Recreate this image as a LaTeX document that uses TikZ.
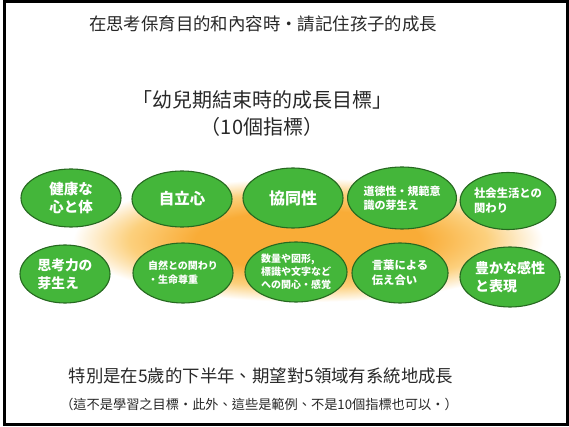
\documentclass[tikz,border=0pt]{standalone}
\usepackage{fontspec}
\usetikzlibrary{shapes.geometric}
\newfontfamily\tcfont{Noto Sans CJK TC}
\newfontfamily\jpfont{Noto Sans CJK JP}
\definecolor{leafgreen}{RGB}{68,182,58}
\definecolor{leafedge}{RGB}{38,105,32}
\definecolor{glowA}{RGB}{249,172,55}
\definecolor{glowB}{RGB}{252,208,125}
\definecolor{inkgray}{RGB}{40,40,40}
\pgfdeclareradialshading{glowshade}{\pgfpoint{0bp}{0bp}}{%
  color(0bp)=(glowA); color(12bp)=(glowA); color(19bp)=(glowB); color(25bp)=(white); color(50bp)=(white)}
\tikzset{
  goal/.style={ellipse, draw=leafedge, line width=1.1pt, fill=leafgreen, text=white,
    inner sep=0pt, align=left, font=\jpfont\bfseries},
  heading/.style={text=inkgray, font=\tcfont, inner sep=0pt}
}
\begin{document}
\begin{tikzpicture}[x=1pt,y=-1pt]
\useasboundingbox (0,0) rectangle (569,427);
\fill[white] (0,0) rectangle (569,427);
% glow
\shade[shading=glowshade] (308,240) ellipse [x radius=235, y radius=62];
% frame
\draw[black, line width=2.6pt] (4.5,1.8) rectangle (567.2,424.2);
% headings
\node[heading, font=\tcfont\fontsize{17.4}{20}\selectfont] (t1) at (263,24) {在思考保育目的和內容時・請記住孩子的成長};
\node[heading, font=\tcfont\fontsize{20}{24}\selectfont] (t2) at (262,100) {「幼兒期結束時的成長目標」};
\node[heading, font=\tcfont\fontsize{20}{24}\selectfont] (t3) at (262,127) {（10個指標）};
\node[heading, font=\tcfont\fontsize{17.4}{20}\selectfont] (b1) at (261,376) {特別是在5歲的下半年、期望對5領域有系統地成長};
\node[heading, font=\tcfont\fontsize{13.2}{16}\selectfont] (b2) at (259,404) {（這不是學習之目標・此外、這些是範例、不是10個指標也可以・）};
% goals row 1
\node[goal, minimum width=100pt, minimum height=58pt, font=\jpfont\bfseries\fontsize{14.5}{18}\selectfont] (g1) at (71,198) {健康な\\心と体};
\node[goal, minimum width=100pt, minimum height=56pt, font=\jpfont\bfseries\fontsize{15.5}{18}\selectfont] (g2) at (182,199) {自立心};
\node[goal, minimum width=100pt, minimum height=60pt, font=\jpfont\bfseries\fontsize{16}{18}\selectfont] (g3) at (293,198) {協同性};
\node[goal, minimum width=94pt, minimum height=62pt, font=\jpfont\bfseries\fontsize{11}{14}\selectfont] (g4) at (402,198) {道徳性・規範意\\識の芽生え};
\node[goal, minimum width=90pt, minimum height=57pt, font=\jpfont\bfseries\fontsize{11.3}{15}\selectfont] (g5) at (508,201) {社会生活との\\関わり};
% goals row 2
\node[goal, minimum width=90pt, minimum height=58pt, font=\jpfont\bfseries\fontsize{13.7}{18}\selectfont] (g6) at (65,274) {思考力の\\芽生え};
\node[goal, minimum width=100pt, minimum height=60pt, font=\jpfont\bfseries\fontsize{10}{14}\selectfont] (g7) at (183,273) {自然との関わり\\・生命尊重};
\node[goal, minimum width=102pt, minimum height=60pt, font=\jpfont\bfseries\fontsize{10}{13}\selectfont] (g8) at (296,272) {数量や図形,\\標識や文字など\\への関心・感覚};
\node[goal, minimum width=96pt, minimum height=60pt, font=\jpfont\bfseries\fontsize{11.3}{15}\selectfont] (g9) at (400,273) {言葉による\\伝え合い};
\node[goal, minimum width=100pt, minimum height=60pt, font=\jpfont\bfseries\fontsize{14}{18}\selectfont] (g10) at (510,277) {豊かな感性\\と表現};
\end{tikzpicture}
\end{document}
